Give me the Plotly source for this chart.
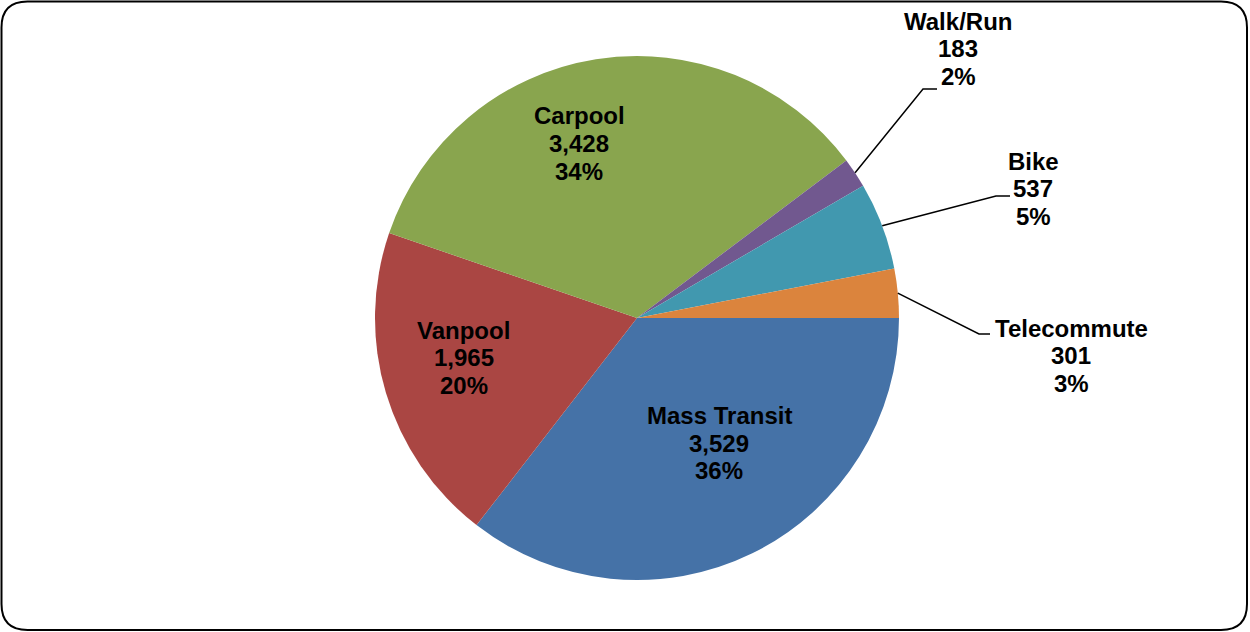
import math
import plotly.graph_objects as go

# ---- data ----
categories = ["Mass Transit", "Vanpool", "Carpool", "Walk/Run", "Bike", "Telecommute"]
values = [3529, 1965, 3428, 183, 537, 301]
pct_labels = [36, 20, 34, 2, 5, 3]  # percentages as printed on the chart
colors = ["#4572A7", "#AA4643", "#89A54E", "#71588F", "#4198AF", "#DB843D"]

W, H = 1250, 632
CX, CY, R = 637, 318, 262  # pie centre / radius in px


def px(x):
    return x / W


def py(y):
    return (H - y) / H


fig = go.Figure(go.Pie(
    labels=categories,
    values=values,
    sort=False,
    direction="clockwise",
    rotation=90,
    marker=dict(colors=colors, line=dict(width=0)),
    textinfo="none",
    hoverinfo="none",
    showlegend=False,
    domain=dict(x=[px(CX - R), px(CX + R)], y=[py(CY + R), py(CY - R)]),
))

total = sum(values)
mids = []
acc = 0
for v in values:
    mids.append((acc + v / 2) / total * 360)
    acc += v

# label placement (px): centre x, middle-line y ; leader elbow for outside labels
label_pos = {
    "Mass Transit": (719, 443, None),
    "Vanpool": (464, 357.5, None),
    "Carpool": (579, 143.5, None),
    "Walk/Run": (958, 49, ((923, 89), (937, 89))),
    "Bike": (1033, 188.5, ((996, 196), (1010, 196))),
    "Telecommute": (1071, 355.5, ((979, 334), (990, 334))),
}

LS = 27.5
annotations = []
shapes = []
for cat, v, pc, mid in zip(categories, values, pct_labels, mids):
    x, y, leader = label_pos[cat]
    lines = [cat, f"{v:,}", f"{pc}%"]
    for i, t in enumerate(lines):
        annotations.append(dict(
            x=px(x), y=py(y + (i - 1) * LS), xref="paper", yref="paper",
            text=f"<b>{t}</b>", showarrow=False, xanchor="center", yanchor="middle",
            font=dict(family="Liberation Sans, Arial, sans-serif", size=24, color="black"),
        ))
    if leader:
        a = math.radians(mid)
        sx, sy = CX + R * math.cos(a), CY + R * math.sin(a)
        (ex, ey), (hx, hy) = leader
        path = f"M {px(sx)} {py(sy)} L {px(ex)} {py(ey)} L {px(hx)} {py(hy)}"
        shapes.append(dict(type="path", xref="paper", yref="paper", path=path,
                           line=dict(color="black", width=1.5)))

# rounded chart border
x0, y0, x1, y1, r = 1.5, 1.5, 1247, 630, 26
rx, ry = r / W, r / H
X0, X1, Y0, Y1 = px(x0), px(x1), py(y1), py(y0)
border = (f"M {X0 + rx} {Y1} L {X1 - rx} {Y1} Q {X1} {Y1} {X1} {Y1 - ry} "
          f"L {X1} {Y0 + ry} Q {X1} {Y0} {X1 - rx} {Y0} "
          f"L {X0 + rx} {Y0} Q {X0} {Y0} {X0} {Y0 + ry} "
          f"L {X0} {Y1 - ry} Q {X0} {Y1} {X0 + rx} {Y1} Z")
shapes.append(dict(type="path", xref="paper", yref="paper", path=border,
                   line=dict(color="black", width=2), layer="above"))

fig.update_layout(
    width=W, height=H,
    margin=dict(l=0, r=0, t=0, b=0),
    paper_bgcolor="white",
    plot_bgcolor="white",
    annotations=annotations,
    shapes=shapes,
)

fig.write_html("out.html",
               config={"displayModeBar": False},
               post_script="document.body.style.margin='0';document.body.style.overflow='hidden';")
